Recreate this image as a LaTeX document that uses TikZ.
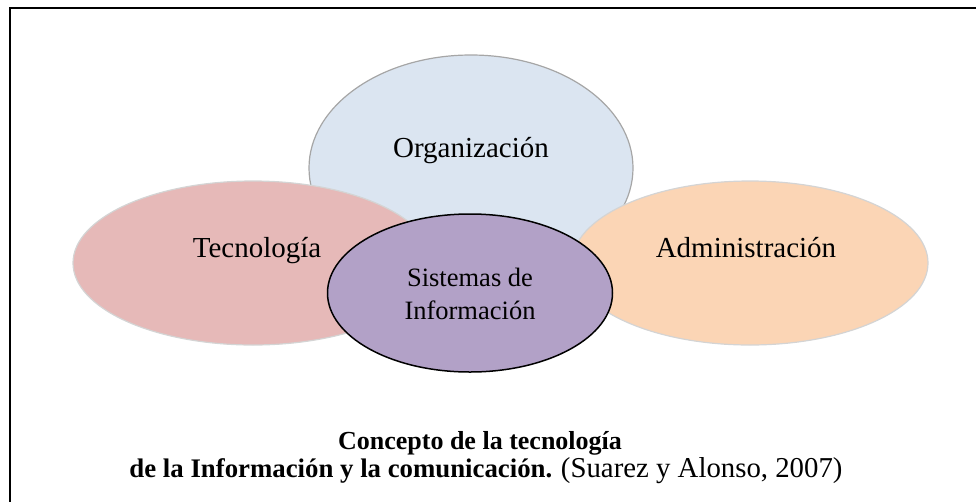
\documentclass[tikz,border=0pt]{standalone}
\usepackage{fontspec}
\setmainfont{Liberation Serif}
\usetikzlibrary{shapes.geometric}
\definecolor{orgfill}{HTML}{DBE5F1}
\definecolor{tecfill}{HTML}{E6B9B8}
\definecolor{admfill}{HTML}{FBD5B5}
\definecolor{sisfill}{HTML}{B2A1C7}
\definecolor{orgline}{HTML}{A6A6A6}
\definecolor{softline}{HTML}{D4D4D4}
\tikzset{
  blob/.style={ellipse, inner sep=0pt, line width=1.2pt},
  bigtext/.style={anchor=base, inner sep=0pt, font=\fontsize{29}{34}\selectfont},
  midtext/.style={anchor=base, inner sep=0pt, font=\fontsize{26.5}{33}\selectfont},
  captext/.style={anchor=base, inner sep=0pt, font=\fontsize{26}{24}\selectfont},
  framepart/.style={line width=1.8pt, black}
}
\begin{document}
\begin{tikzpicture}[x=1pt,y=-1pt]
\useasboundingbox (0,0) rectangle (976,501);
% frame (only top and left edges visible)
\coordinate (ftl) at (10,8);
\coordinate (ftr) at (977,8);
\coordinate (fbl) at (10,502);
\draw[framepart] (ftr) -- (ftl) -- (fbl);
% ellipses
\node[blob, draw=orgline, fill=orgfill, minimum width=324pt, minimum height=226pt] (org) at (471,168) {};
\node[blob, draw=softline, fill=tecfill, minimum width=360pt, minimum height=164pt] (tec) at (253,263) {};
\node[blob, draw=softline, fill=admfill, minimum width=356pt, minimum height=164pt] (adm) at (750,263) {};
\node[blob, draw=black, line width=1.5pt, fill=sisfill, minimum width=285pt, minimum height=158pt] (sis) at (470,293) {};
% labels
\node[bigtext] (orgt) at (471,157) {Organización};
\node[bigtext] (tect) at (257,257) {Tecnología};
\node[bigtext] (admt) at (746,257) {Administración};
\node[midtext] (sist1) at (470,286) {Sistemas de};
\node[midtext] (sist2) at (470,319) {Información};
% caption
\node[captext] (cap1) at (480,449) {\textbf{Concepto de la tecnología}};
\node[captext] (cap2) at (486,477) {{\fontsize{26.8}{24}\selectfont\textbf{de la Información y la comunicación.}} {\fontsize{28.8}{24}\selectfont (Suarez y Alonso, 2007)}};
\end{tikzpicture}
\end{document}
